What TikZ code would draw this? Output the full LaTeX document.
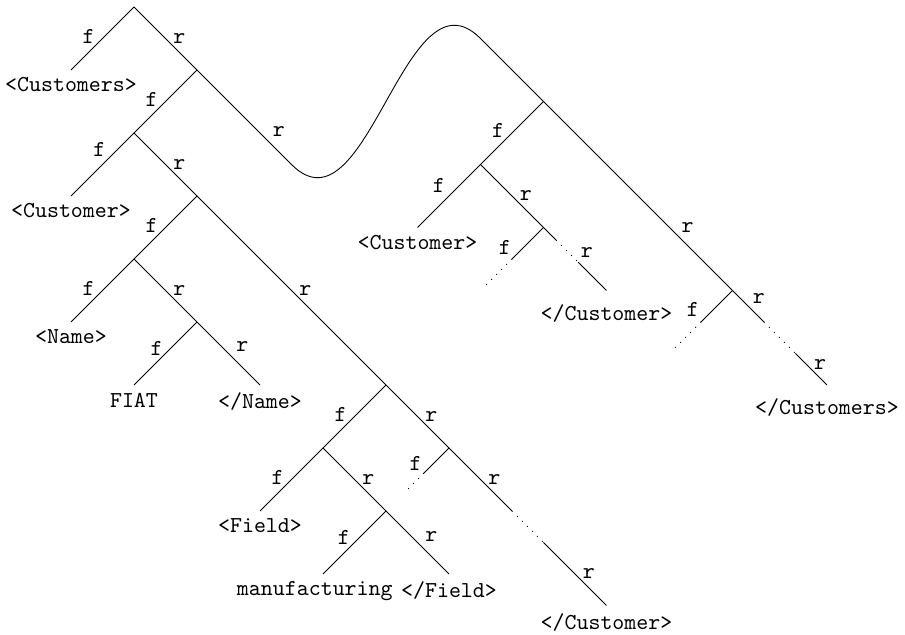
\documentclass[tikz,border=0pt]{standalone}
\usepackage{tikz}

\begin{document}
\begin{tikzpicture}[
  every node/.style={font=\fontsize{10.3}{12}\selectfont\ttfamily},
  fl/.style={midway, left, yshift=1pt},
  rl/.style={midway, right},
  gap/.style={dash pattern=on 0.4pt off 2.8pt},
  leaf/.style={below}
]
  \useasboundingbox (-2.127,0.111) rectangle (12.238,-9.968);
  % Branch points
  \coordinate (root) at (0,0);
  \coordinate (a) at (1,-1);
  \coordinate (b) at (0,-2);
  \coordinate (c) at (1,-3);
  \coordinate (d) at (0,-4);
  \coordinate (e) at (1,-5);
  \coordinate (fb) at (4,-6);
  \coordinate (g) at (3,-7);
  \coordinate (h) at (5,-7);
  \coordinate (i) at (4,-8);
  \coordinate (j) at (6.5,-1.5);
  \coordinate (k) at (5.5,-2.5);
  \coordinate (l) at (6.5,-3.5);
  \coordinate (m) at (9.5,-4.5);
  \coordinate (bend) at (2.5,-2.5);
  \coordinate (top) at (5.5,-0.5);
  % Leaves
  \coordinate (custsOpen) at (-1,-1);
  \coordinate (custOpen) at (-1,-3);
  \coordinate (nameOpen) at (-1,-5);
  \coordinate (fiat) at (0,-6);
  \coordinate (nameClose) at (2,-6);
  \coordinate (fieldOpen) at (2,-8);
  \coordinate (manuf) at (3,-9);
  \coordinate (fieldClose) at (5,-9);
  \coordinate (custClose) at (7.5,-9.5);
  \coordinate (custOpenB) at (4.5,-3.5);
  \coordinate (custCloseB) at (7.5,-4.5);
  \coordinate (custsClose) at (11,-6);
  % Cut-off ends
  \coordinate (hf1) at (4.6,-7.4);
  \coordinate (hf2) at (4.3,-7.7);
  \coordinate (hr1) at (6,-8);
  \coordinate (hr2) at (6.5,-8.5);
  \coordinate (lf1) at (6,-4);
  \coordinate (lf2) at (5.55,-4.45);
  \coordinate (lr1) at (6.7,-3.7);
  \coordinate (lr2) at (7.05,-4.05);
  \coordinate (mf1) at (9,-5);
  \coordinate (mf2) at (8.55,-5.45);
  \coordinate (mr1) at (10,-5);
  \coordinate (mr2) at (10.5,-5.5);

  % Left part
  \draw (root) -- node[fl] {f} (custsOpen);
  \draw (root) -- node[rl] {r} (a);
  \draw (a) -- node[fl] {f} (b);
  \draw (a) -- node[rl, pos=0.72, yshift=3pt] {r} (bend)
    .. controls (3.7,-3.7) and (4.3,0.7) .. (top) -- (j);
  \draw (b) -- node[fl, pos=0.33, yshift=1pt] {f} (custOpen);
  \draw (b) -- node[rl] {r} (c);
  \draw (c) -- node[fl] {f} (d);
  \draw (c) -- node[rl] {r} (fb);
  \draw (d) -- node[fl] {f} (nameOpen);
  \draw (d) -- node[rl] {r} (e);
  \draw (e) -- node[fl, pos=0.42, yshift=-1pt] {f} (fiat);
  \draw (e) -- node[rl, yshift=3pt] {r} (nameClose);
  \draw (fb) -- node[fl] {f} (g);
  \draw (fb) -- node[rl] {r} (h);
  \draw (g) -- node[fl] {f} (fieldOpen);
  \draw (g) -- node[rl] {r} (i);
  \draw (i) -- node[fl, pos=0.45] {f} (manuf);
  \draw (i) -- node[rl, yshift=2.5pt] {r} (fieldClose);
  \draw (h) -- node[fl, pos=0.78, yshift=1pt] {f} (hf1);
  \draw[gap] (hf1) -- (hf2);
  \draw (h) -- node[rl] {r} (hr1);
  \draw[gap] (hr1) -- (hr2);
  \draw (hr2) -- node[rl] {r} (custClose);

  % Right part
  \draw (j) -- node[fl] {f} (k);
  \draw (j) -- node[rl, pos=0.69, yshift=2pt] {r} (m);
  \draw (k) -- node[fl, pos=0.44, yshift=2pt] {f} (custOpenB);
  \draw (k) -- node[rl] {r} (l);
  \draw (l) -- node[fl, pos=0.79, yshift=1pt] {f} (lf1);
  \draw[gap] (lf1) -- (lf2);
  \draw (l) -- (lr1);
  \draw[gap] (lr1) -- node[rl, pos=0.77, yshift=2pt] {r} (lr2);
  \draw (lr2) -- (custCloseB);
  \draw (m) -- node[fl, pos=0.82, yshift=2pt] {f} (mf1);
  \draw[gap] (mf1) -- (mf2);
  \draw (m) -- node[rl, pos=0.4, yshift=2pt] {r} (mr1);
  \draw[gap] (mr1) -- (mr2);
  \draw (mr2) -- node[rl, pos=0.34] {r} (custsClose);

  % Tags
  \node[leaf] (custsOpenTxt) at (custsOpen) {<Customers>};
  \node[leaf] (custOpenTxt) at (custOpen) {<Customer>};
  \node[leaf] (nameOpenTxt) at (nameOpen) {<Name>};
  \node[leaf] (fiatTxt) at (fiat) {FIAT};
  \node[leaf] (nameCloseTxt) at (nameClose) {</Name>};
  \node[leaf] (fieldOpenTxt) at (fieldOpen) {<Field>};
  \node[leaf, xshift=-0.13cm] (manufTxt) at (manuf) {manufacturing};
  \node[leaf] (fieldCloseTxt) at (fieldClose) {</Field>};
  \node[leaf] (custCloseTxt) at (custClose) {</Customer>};
  \node[leaf] (custOpenBTxt) at (custOpenB) {<Customer>};
  \node[leaf, yshift=-0.1cm] (custCloseBTxt) at (custCloseB) {</Customer>};
  \node[leaf, yshift=-0.1cm] (custsCloseTxt) at (custsClose) {</Customers>};
\end{tikzpicture}
\end{document}
